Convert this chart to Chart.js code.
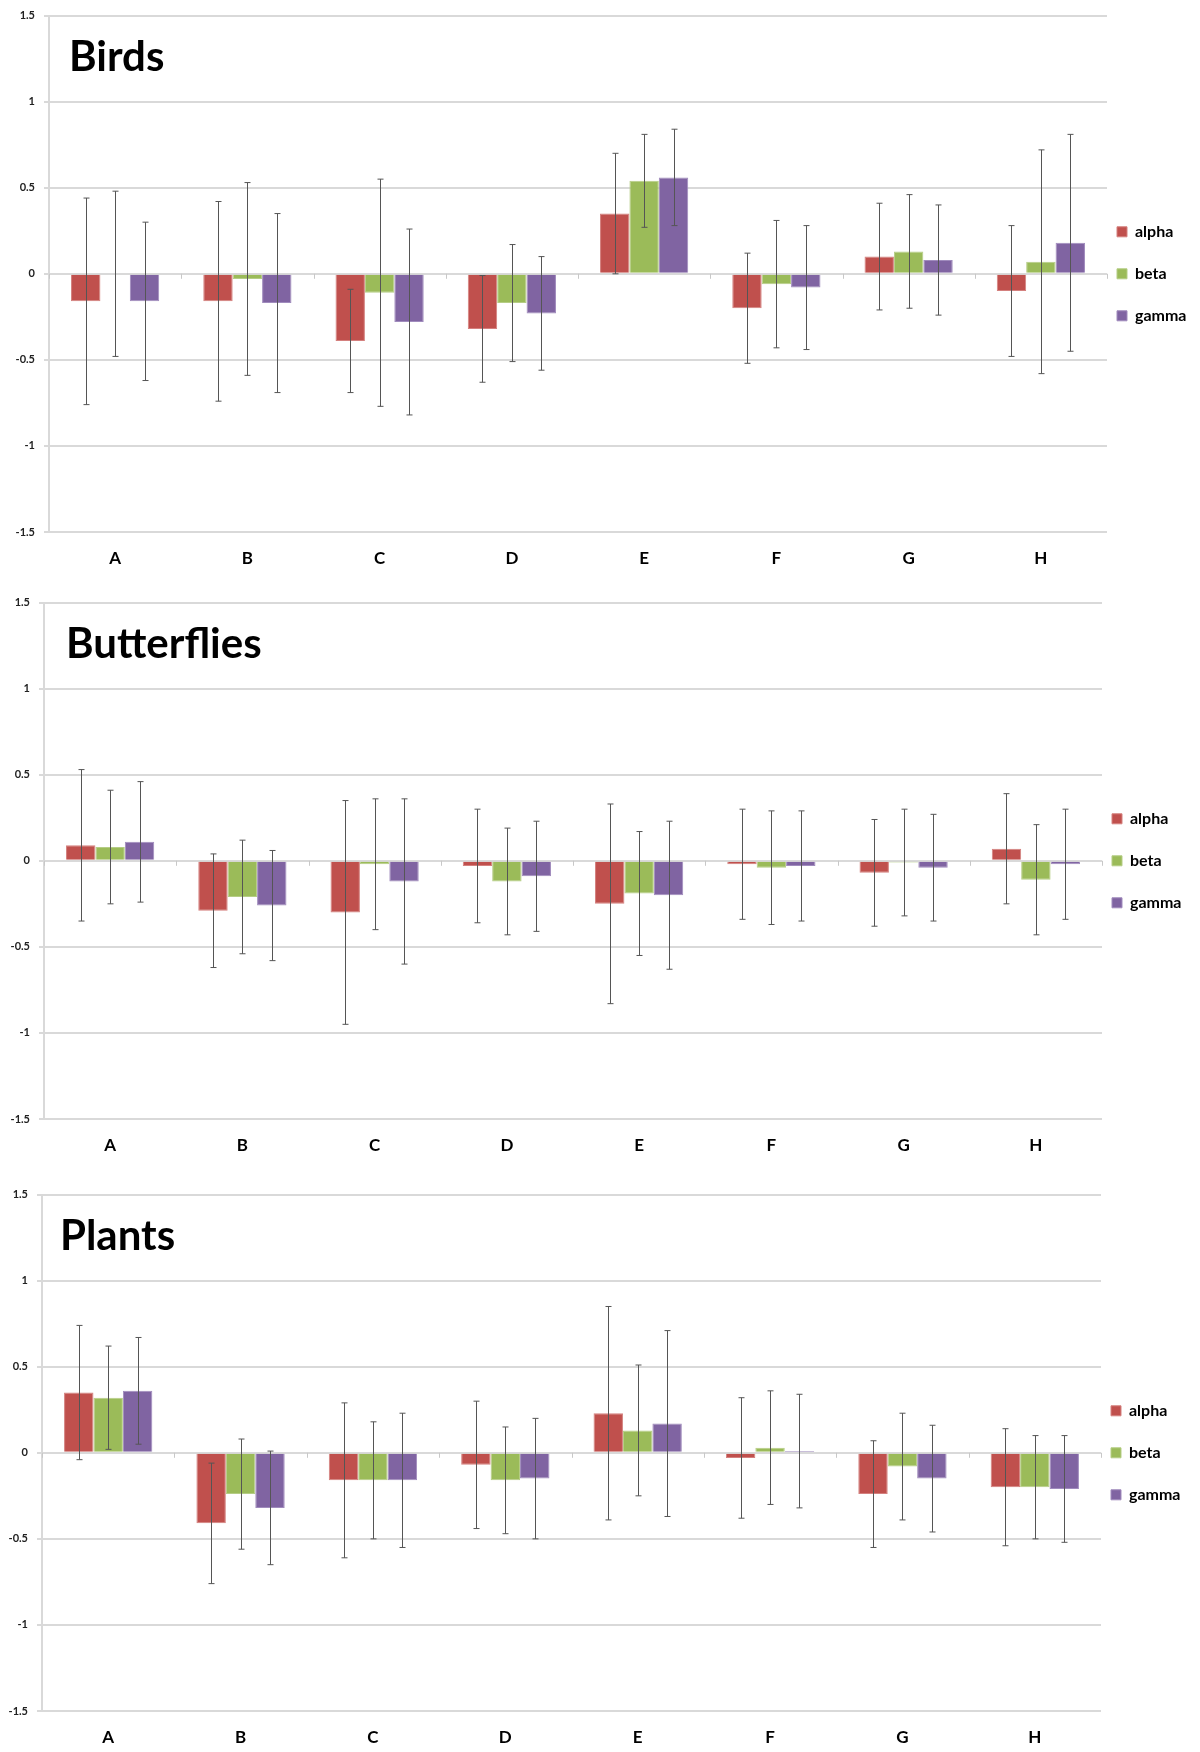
<!DOCTYPE html>
<html>
<head>
<meta charset="utf-8">
<title>Birds, Butterflies, Plants</title>
<script src="https://cdn.jsdelivr.net/npm/chart.js@4.4.1/dist/chart.umd.min.js"></script>
<style>
  html, body { margin: 0; padding: 0; background: #fff; overflow: hidden; }
  body { width: 1200px; height: 1752px; position: relative; }
  .panel { position: absolute; left: 0; width: 1200px; }
</style>
</head>
<body>
<div class="panel" id="panel-birds"><canvas id="chart-birds" width="1200" height="579"></canvas></div>
<div class="panel" id="panel-butterflies"><canvas id="chart-butterflies" width="1200" height="579"></canvas></div>
<div class="panel" id="panel-plants"><canvas id="chart-plants" width="1200" height="579"></canvas></div>

<script>
'use strict';

// ************************* DATA ***************************

let categories = ['A', 'B', 'C', 'D', 'E', 'F', 'G', 'H'];
let seriesNames = ['alpha', 'beta', 'gamma'];
let yTicks = [-1.5, -1, -0.5, 0, 0.5, 1, 1.5];

let birdsAlpha = [-0.16, -0.16, -0.39, -0.32, 0.35, -0.20, 0.10, -0.10];
let birdsBeta = [0.00, -0.03, -0.11, -0.17, 0.54, -0.06, 0.13, 0.07];
let birdsGamma = [-0.16, -0.17, -0.28, -0.23, 0.56, -0.08, 0.08, 0.18];
let birdsAlphaErr = [0.60, 0.58, 0.30, 0.31, 0.35, 0.32, 0.31, 0.38];
let birdsBetaErr = [0.48, 0.56, 0.66, 0.34, 0.27, 0.37, 0.33, 0.65];
let birdsGammaErr = [0.46, 0.52, 0.54, 0.33, 0.28, 0.36, 0.32, 0.63];

let butterfliesAlpha = [0.09, -0.29, -0.30, -0.03, -0.25, -0.02, -0.07, 0.07];
let butterfliesBeta = [0.08, -0.21, -0.02, -0.12, -0.19, -0.04, -0.01, -0.11];
let butterfliesGamma = [0.11, -0.26, -0.12, -0.09, -0.20, -0.03, -0.04, -0.02];
let butterfliesAlphaErr = [0.44, 0.33, 0.65, 0.33, 0.58, 0.32, 0.31, 0.32];
let butterfliesBetaErr = [0.33, 0.33, 0.38, 0.31, 0.36, 0.33, 0.31, 0.32];
let butterfliesGammaErr = [0.35, 0.32, 0.48, 0.32, 0.43, 0.32, 0.31, 0.32];

let plantsAlpha = [0.35, -0.41, -0.16, -0.07, 0.23, -0.03, -0.24, -0.20];
let plantsBeta = [0.32, -0.24, -0.16, -0.16, 0.13, 0.03, -0.08, -0.20];
let plantsGamma = [0.36, -0.32, -0.16, -0.15, 0.17, 0.01, -0.15, -0.21];
let plantsAlphaErr = [0.39, 0.35, 0.45, 0.37, 0.62, 0.35, 0.31, 0.34];
let plantsBetaErr = [0.30, 0.32, 0.34, 0.31, 0.38, 0.33, 0.31, 0.30];
let plantsGammaErr = [0.31, 0.33, 0.39, 0.35, 0.54, 0.33, 0.31, 0.31];

// ************************* STYLE ***************************

let fillColors = ['#c0504d', '#9bbb59', '#8064a2'];
let edgeColors = ['#d4807e', '#b5cd85', '#a08bbd'];
let gridColor = '#d9d9d9';
let padTop = 15;
let xAxisHeight = 37;

// top = y of the 1.5 gridline, left/right = plot edges
let panels = [
  { name: 'birds', title: 'Birds', top: 14.7, left: 49, right: 1107, titleX: 20,
    values: [birdsAlpha, birdsBeta, birdsGamma],
    errors: [birdsAlphaErr, birdsBetaErr, birdsGammaErr] },
  { name: 'butterflies', title: 'Butterflies', top: 601.5, left: 44, right: 1102, titleX: 22,
    values: [butterfliesAlpha, butterfliesBeta, butterfliesGamma],
    errors: [butterfliesAlphaErr, butterfliesBetaErr, butterfliesGammaErr] },
  { name: 'plants', title: 'Plants', top: 1194, left: 42, right: 1101, titleX: 18,
    values: [plantsAlpha, plantsBeta, plantsGamma],
    errors: [plantsAlphaErr, plantsBetaErr, plantsGammaErr] }
];

// ************************* PLUGINS ***************************

// vertical error bars with small caps, drawn on top of the bars
let errorBars = {
  id: 'errorBars',
  afterDatasetsDraw(chart) {
    let ctx = chart.ctx;
    let yScale = chart.scales.y;
    ctx.save();
    ctx.strokeStyle = '#555555';
    ctx.lineWidth = 1;
    chart.data.datasets.forEach((ds, i) => {
      let meta = chart.getDatasetMeta(i);
      meta.data.forEach((bar, j) => {
        let hi = yScale.getPixelForValue(ds.data[j] + ds.errors[j]);
        let lo = yScale.getPixelForValue(ds.data[j] - ds.errors[j]);
        let x = Math.round(bar.x) + 0.5;
        ctx.beginPath();
        ctx.moveTo(x, hi);
        ctx.lineTo(x, lo);
        ctx.moveTo(x - 3, hi);
        ctx.lineTo(x + 3, hi);
        ctx.moveTo(x - 3, lo);
        ctx.lineTo(x + 3, lo);
        ctx.stroke();
      });
    });
    ctx.restore();
  }
};

// little tick marks hanging under the zero line between categories
let zeroTicks = {
  id: 'zeroTicks',
  beforeDatasetsDraw(chart) {
    let ctx = chart.ctx;
    let xScale = chart.scales.x;
    let y0 = chart.scales.y.getPixelForValue(0);
    ctx.save();
    ctx.strokeStyle = '#c8c8c8';
    ctx.lineWidth = 1;
    ctx.beginPath();
    for (let i = 0; i <= categories.length; i++) {
      let x = Math.round(xScale.getPixelForValue(i - 0.5)) + 0.5;
      ctx.moveTo(x, y0);
      ctx.lineTo(x, y0 + 5);
    }
    ctx.stroke();
    ctx.restore();
  }
};

// big panel title sitting inside the plot, top left
let panelTitle = {
  id: 'panelTitle',
  afterDraw(chart, args, opts) {
    let ctx = chart.ctx;
    ctx.save();
    ctx.font = 'bold 42px Lato';
    ctx.fillStyle = '#000';
    ctx.textBaseline = 'alphabetic';
    ctx.fillText(opts.text, chart.chartArea.left + opts.dx, chart.chartArea.top + 55);
    ctx.restore();
  }
};

// pull the legend in a bit closer to the plot (right edge stays, so nothing is clipped)
let legendNudge = {
  id: 'legendNudge',
  afterLayout(chart) {
    chart.legend.left -= 16;
    chart.legend.width += 16;
  }
};

// ************************* CHARTS ***************************

function makeDatasets(panel) {
  let datasets = [];
  for (let i = 0; i < seriesNames.length; i++) {
    datasets.push({
      label: seriesNames[i],
      data: panel.values[i],
      errors: panel.errors[i],
      backgroundColor: fillColors[i],
      borderColor: edgeColors[i],
      borderWidth: 1,
      categoryPercentage: 0.667,
      barPercentage: 1
    });
  }
  return datasets;
}

function renderPanel(panel) {
  let box = document.getElementById('panel-' + panel.name);
  box.style.top = (panel.top - padTop) + 'px';
  let canvas = document.getElementById('chart-' + panel.name);

  new Chart(canvas.getContext('2d'), {
    type: 'bar',
    data: {
      labels: categories,
      datasets: makeDatasets(panel)
    },
    options: {
      responsive: false,
      animation: false,
      layout: { padding: { top: padTop, bottom: canvas.height - padTop - 517 - xAxisHeight, left: 0, right: 0 } },
      scales: {
        x: {
          afterFit(scale) { scale.height = xAxisHeight; },
          grid: { display: false, drawTicks: false },
          border: { display: false },
          ticks: { color: '#000', padding: 16, font: { family: 'Lato', size: 17, weight: 'bold' } }
        },
        y: {
          min: yTicks[0],
          max: yTicks[yTicks.length - 1],
          afterFit(scale) { scale.width = panel.left; },
          afterBuildTicks(scale) { scale.ticks = yTicks.map(v => ({ value: v })); },
          grid: { color: gridColor, lineWidth: 2, tickLength: 5 },
          border: { color: gridColor, width: 2 },
          ticks: {
            padding: 9,
            color: '#222',
            font: { family: 'Lato', size: 11, weight: 'bold' },
            callback: (v) => String(v)
          }
        }
      },
      plugins: {
        legend: {
          position: 'right',
          fullSize: false,
          maxWidth: 1200 - panel.right,
          labels: {
            boxWidth: 10,
            boxHeight: 10,
            padding: 26,
            color: '#000',
            font: { family: 'Lato', size: 16, weight: 'bold' }
          }
        },
        tooltip: { enabled: false },
        panelTitle: { text: panel.title, dx: panel.titleX }
      }
    },
    plugins: [zeroTicks, errorBars, panelTitle, legendNudge]
  });
}

panels.forEach(renderPanel);
</script>
</body>
</html>
